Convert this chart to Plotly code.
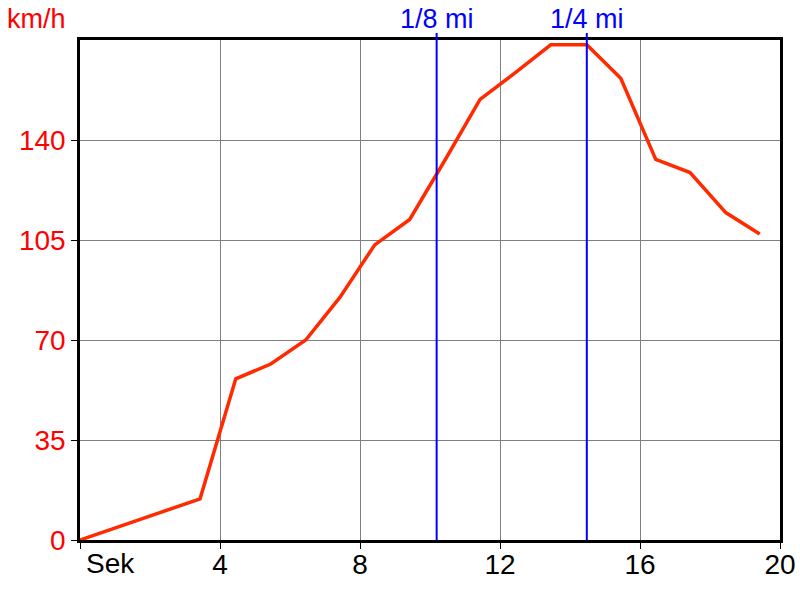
import plotly.graph_objects as go

# Data (time in seconds, speed in km/h)
t_sec = [0, 3.43, 4.45, 5.45, 6.45, 7.43, 8.42, 9.42, 10.43, 11.43, 12.43, 13.45, 14.48, 15.45, 16.45, 17.43, 18.45, 19.42]
speed_kmh = [0, 14.4, 56.4, 61.6, 70, 85, 103.3, 112.2, 133, 154.2, 163.5, 173.3, 173.3, 161.6, 133.2, 128.6, 114.6, 107.1]

marker_x = [10.19, 14.48]
marker_labels = ["1/8 mi", "1/4 mi"]

x_tickvals = [0, 4, 8, 12, 16, 20]
x_ticktext = ["", "4", "8", "12", "16", "20"]
y_tickvals = [0, 35, 70, 105, 140]

FONT = "Liberation Sans, Arial, sans-serif"
FS = 28

fig = go.Figure()
fig.add_trace(go.Scatter(
    x=t_sec, y=speed_kmh, mode="lines",
    line=dict(color="#ff2a00", width=3.5),
    hoverinfo="skip", showlegend=False,
))

for mx, lab in zip(marker_x, marker_labels):
    fig.add_shape(type="line", xref="x", yref="paper", x0=mx, x1=mx, y0=0, y1=1.014,
                  line=dict(color="#0000ff", width=2), layer="above")
    fig.add_annotation(x=mx, xref="x", y=1, yref="paper", text=lab, showarrow=False,
                       xanchor="center", yanchor="middle", yshift=21,
                       font=dict(family=FONT, size=27, color="#0000ff"))

fig.add_annotation(x=0, xref="paper", y=1, yref="paper", text="km/h", showarrow=False,
                   xanchor="right", yanchor="middle", xshift=-12, yshift=21,
                   font=dict(family=FONT, size=27, color="#ff0000"))
fig.add_annotation(x=0, xref="x", y=0, yref="paper", text="Sek", showarrow=False,
                   xanchor="left", yanchor="top", xshift=4, yshift=-6,
                   font=dict(family=FONT, size=FS, color="#000000"))

fig.update_layout(
    template="none",
    width=800, height=600,
    margin=dict(l=80, r=20, t=40, b=60, pad=0, autoexpand=False),
    paper_bgcolor="white", plot_bgcolor="white",
    font=dict(family=FONT, size=FS),
    hovermode=False,
)
fig.update_xaxes(
    range=[0, 20], tickvals=x_tickvals, ticktext=x_ticktext, automargin=False,
    showgrid=True, gridcolor="#808080", gridwidth=1,
    showline=True, linecolor="black", linewidth=2.5, mirror=True,
    ticks="outside", ticklen=6, tickcolor="black", tickwidth=1,
    ticklabelstandoff=-8,
    tickfont=dict(family=FONT, size=FS, color="black"),
    zeroline=False, fixedrange=True,
)
fig.update_yaxes(
    range=[0, 175], tickvals=y_tickvals, automargin=False,
    showgrid=True, gridcolor="#808080", gridwidth=1,
    showline=True, linecolor="black", linewidth=2.5, mirror=True,
    ticks="outside", ticklen=6, tickcolor="black", tickwidth=1,
    tickfont=dict(family=FONT, size=FS, color="#ff0000"),
    zeroline=False, fixedrange=True,
)

fig.write_html("out.html", config={"displayModeBar": False},
               post_script="document.body.style.margin='0';")
